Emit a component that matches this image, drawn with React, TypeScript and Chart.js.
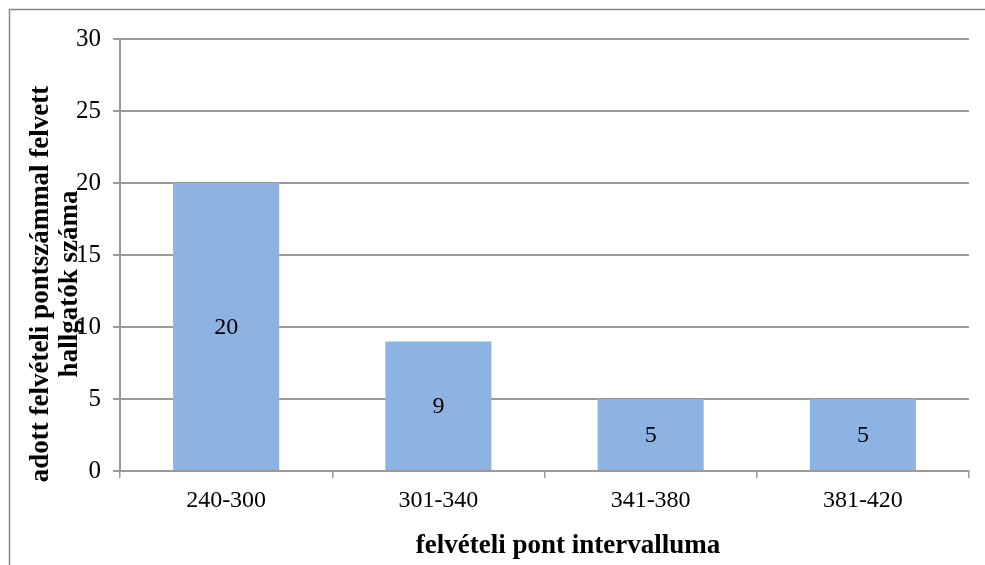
import React, { useEffect, useRef } from "react";
import { Chart, registerables } from "chart.js";

Chart.register(...registerables);

const categories = ["240-300", "301-340", "341-380", "381-420"];
const values = [20, 9, 5, 5];
const yTicks = [0, 5, 10, 15, 20, 25, 30];
const xTitle = "felvételi pont intervalluma";
const yTitleLines = ["adott felvételi pontszámmal felvett", "hallgatók száma"];

const FONT = "'Liberation Serif', 'Times New Roman', serif";
const GRID = "#9a9a9a";

const customPlugin = {
  id: "custom",
  beforeDraw(chart: any) {
    const ctx = chart.ctx;
    ctx.save();
    ctx.strokeStyle = "#868686";
    ctx.lineWidth = 1.5;
    ctx.strokeRect(9.5, 9.5, 1000, 600);
    ctx.restore();
  },
  afterDatasetsDraw(chart: any) {
    const ctx = chart.ctx;
    const meta = chart.getDatasetMeta(0);
    ctx.save();
    ctx.fillStyle = "#000";
    ctx.font = `24px ${FONT}`;
    ctx.textAlign = "center";
    ctx.textBaseline = "middle";
    meta.data.forEach((el: any, i: number) => {
      const v = chart.data.datasets[0].data[i];
      ctx.fillText(String(v), el.x, (el.y + el.base) / 2 + 1);
    });
    ctx.restore();
  },
  afterDraw(chart: any) {
    const ctx = chart.ctx;
    ctx.save();
    ctx.fillStyle = "#000";
    ctx.font = `bold 27px ${FONT}`;
    ctx.textAlign = "center";
    ctx.textBaseline = "alphabetic";
    ctx.fillText(xTitle, 568, 553);
    const baselines = [48, 77];
    yTitleLines.forEach((line, i) => {
      ctx.save();
      ctx.translate(baselines[i], 284);
      ctx.rotate(-Math.PI / 2);
      ctx.fillText(line, 0, 0);
      ctx.restore();
    });
    ctx.restore();
  },
};

export default function App() {
  const ref = useRef<HTMLCanvasElement | null>(null);
  useEffect(() => {
    if (!ref.current) return;
    const chart = new Chart(ref.current, {
      type: "bar",
      data: {
        labels: categories,
        datasets: [
          {
            data: values,
            backgroundColor: "#8db3e2",
            barPercentage: 0.5,
            categoryPercentage: 1,
          },
        ],
      },
      options: {
        animation: false,
        responsive: false,
        layout: { padding: { top: 39, right: 16, left: 0, bottom: 0 } },
        plugins: { legend: { display: false }, tooltip: { enabled: false } },
        scales: {
          x: {
            grid: {
              drawOnChartArea: false,
              drawTicks: true,
              tickLength: 7,
              color: GRID,
              lineWidth: 1.5,
              offset: true,
            },
            border: { color: GRID, width: 2 },
            ticks: { color: "#000", font: { family: FONT, size: 24 }, padding: 8 },
            afterFit: (s: any) => {
              s.height = 94;
            },
          },
          y: {
            min: 0,
            max: 30,
            afterBuildTicks: (s: any) => {
              s.ticks = yTicks.map((v) => ({ value: v }));
            },
            grid: { color: GRID, lineWidth: 2, tickLength: 7 },
            border: { color: GRID, width: 2 },
            ticks: { color: "#000", font: { family: FONT, size: 25 }, padding: 12 },
            afterFit: (s: any) => {
              s.width = 120;
            },
          },
        },
      },
      plugins: [customPlugin],
    });
    return () => chart.destroy();
  }, []);
  return (
    <div style={{ position: "absolute", left: 0, top: 0, width: 985, height: 565 }}>
      <canvas ref={ref} width={985} height={565} style={{ display: "block" }} />
    </div>
  );
}
